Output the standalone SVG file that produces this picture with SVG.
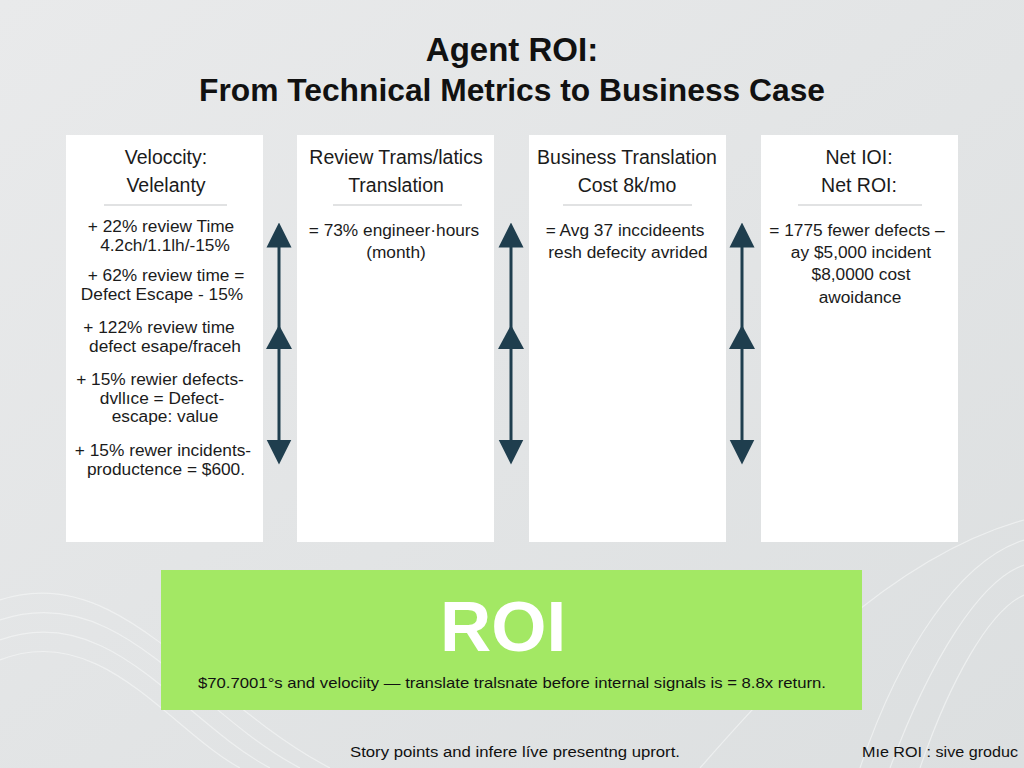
<svg xmlns="http://www.w3.org/2000/svg" width="1024" height="768" viewBox="0 0 1024 768">
<defs>
<linearGradient id="bg" x1="0" y1="0" x2="1" y2="1">
<stop offset="0" stop-color="#e9eaeb"/>
<stop offset="1" stop-color="#dcdfe0"/>
</linearGradient>
<marker id="ah" viewBox="0 0 10 10" refX="5" refY="5" markerWidth="25" markerHeight="26" markerUnits="userSpaceOnUse" orient="auto-start-reverse">
<path d="M0,0 L10,5 L0,10 z" fill="#1f3e4e"/>
</marker>
<style>
.card{fill:#ffffff}
.hd{font-family:"Liberation Sans",Arial,sans-serif;font-size:19.5px;fill:#1b1b1b;text-anchor:middle}
.bd{font-family:"Liberation Sans",Arial,sans-serif;font-size:17.3px;fill:#1b1b1b;text-anchor:middle}
.div{stroke:#c4c6c8;stroke-width:1.2}
.con{stroke:#1f3e4e;stroke-width:3;fill:none}
.wave{fill:none;stroke:#f4f5f5;stroke-width:1.2;opacity:0.7}
</style>
</defs>
<rect width="1024" height="768" fill="url(#bg)"/>
<g id="background-waves">
<path class="wave" d="M0,600 C120,560 200,700 330,768"/>
<path class="wave" d="M0,620 C120,580 190,710 300,768"/>
<path class="wave" d="M0,640 C110,600 180,720 270,768"/>
<path class="wave" d="M0,660 C100,620 170,730 240,768"/>
<path class="wave" d="M860,768 C900,650 960,560 1024,540"/>
<path class="wave" d="M890,768 C930,660 980,580 1024,565"/>
<path class="wave" d="M920,768 C950,680 990,610 1024,595"/>
<path class="wave" d="M700,768 C760,700 880,560 1024,520"/>
</g>
<g id="title">
<text x="512" y="61" font-family="Liberation Sans,Arial,sans-serif" font-size="33" font-weight="bold" text-anchor="middle" fill="#111">Agent ROI:</text>
<text x="512" y="101" font-family="Liberation Sans,Arial,sans-serif" font-size="31" font-weight="bold" text-anchor="middle" fill="#111" textLength="626" lengthAdjust="spacingAndGlyphs">From Technical Metrics to Business Case</text>
</g>
<g id="card-velocity">
<rect class="card" x="66" y="135" width="197" height="407"/>
<text class="hd" x="166" y="164">Veloccity:</text>
<text class="hd" x="166" y="192">Velelanty</text>
<line class="div" x1="104" y1="205" x2="227" y2="205"/>
<text class="bd" x="161" y="232">+ 22% review Time</text>
<text class="bd" x="165" y="251">4.2ch/1.1lh/-15%</text>
<text class="bd" x="166" y="281">+ 62% review time =</text>
<text class="bd" x="162" y="300">Defect Escape - 15%</text>
<text class="bd" x="159" y="333">+ 122% review time</text>
<text class="bd" x="165" y="352">defect esape/fraceh</text>
<text class="bd" x="160" y="385">+ 15% rewier defects-</text>
<text class="bd" x="162" y="404">dvllıce = Defect-</text>
<text class="bd" x="165" y="422">escape: value</text>
<text class="bd" x="163" y="456">+ 15% rewer incidents-</text>
<text class="bd" x="166" y="475">productence = $600.</text>
</g>
<g id="card-review">
<rect class="card" x="297" y="135" width="197" height="407"/>
<text class="hd" x="396" y="164">Review Trams/latics</text>
<text class="hd" x="396" y="192">Translation</text>
<line class="div" x1="333" y1="205" x2="462" y2="205"/>
<text class="bd" x="394" y="236">= 73% engineer·hours</text>
<text class="bd" x="396" y="258">(month)</text>
</g>
<g id="card-business">
<rect class="card" x="529" y="135" width="197" height="407"/>
<text class="hd" x="627" y="164">Business Translation</text>
<text class="hd" x="627" y="192">Cost 8k/mo</text>
<line class="div" x1="563" y1="205" x2="692" y2="205"/>
<text class="bd" x="625" y="236">= Avg 37 inccideents</text>
<text class="bd" x="628" y="258">resh defecity avrided</text>
</g>
<g id="card-net">
<rect class="card" x="761" y="135" width="197" height="407"/>
<text class="hd" x="859" y="164">Net IOI:</text>
<text class="hd" x="859" y="192">Net ROI:</text>
<line class="div" x1="798" y1="205" x2="922" y2="205"/>
<text class="bd" x="857" y="236">= 1775 fewer defects –</text>
<text class="bd" x="861" y="258">ay $5,000 incident</text>
<text class="bd" x="861" y="280">$8,0000 cost</text>
<text class="bd" x="860" y="303">awoidance</text>
</g>
<g id="connectors">
<line class="con" x1="279" y1="235" x2="279" y2="452" marker-start="url(#ah)" marker-end="url(#ah)"/>
<path d="M266,349 L279,325 L292,349 z" fill="#1f3e4e"/>
<line class="con" x1="511" y1="235" x2="511" y2="452" marker-start="url(#ah)" marker-end="url(#ah)"/>
<path d="M498,349 L511,325 L524,349 z" fill="#1f3e4e"/>
<line class="con" x1="742" y1="235" x2="742" y2="452" marker-start="url(#ah)" marker-end="url(#ah)"/>
<path d="M729,349 L742,325 L755,349 z" fill="#1f3e4e"/>
</g>
<g id="roi-box">
<rect x="161" y="570" width="701" height="140" fill="#a3e864"/>
<text x="503" y="651" font-family="Liberation Sans,Arial,sans-serif" font-size="71" font-weight="bold" text-anchor="middle" fill="#ffffff">ROI</text>
<text x="512" y="688" font-family="Liberation Sans,Arial,sans-serif" font-size="15" text-anchor="middle" fill="#111" textLength="628" lengthAdjust="spacingAndGlyphs">$70.7001°s and velociity — translate tralsnate before internal signals is = 8.8x return.</text>
</g>
<g id="footer">
<text x="350" y="757" font-family="Liberation Sans,Arial,sans-serif" font-size="14" fill="#111" textLength="330" lengthAdjust="spacingAndGlyphs">Story points and infere líve presentng uprort.</text>
<text x="862" y="757" font-family="Liberation Sans,Arial,sans-serif" font-size="14" fill="#111" textLength="156" lengthAdjust="spacingAndGlyphs">Mıe ROI : sive groduc</text>
</g>
</svg>
